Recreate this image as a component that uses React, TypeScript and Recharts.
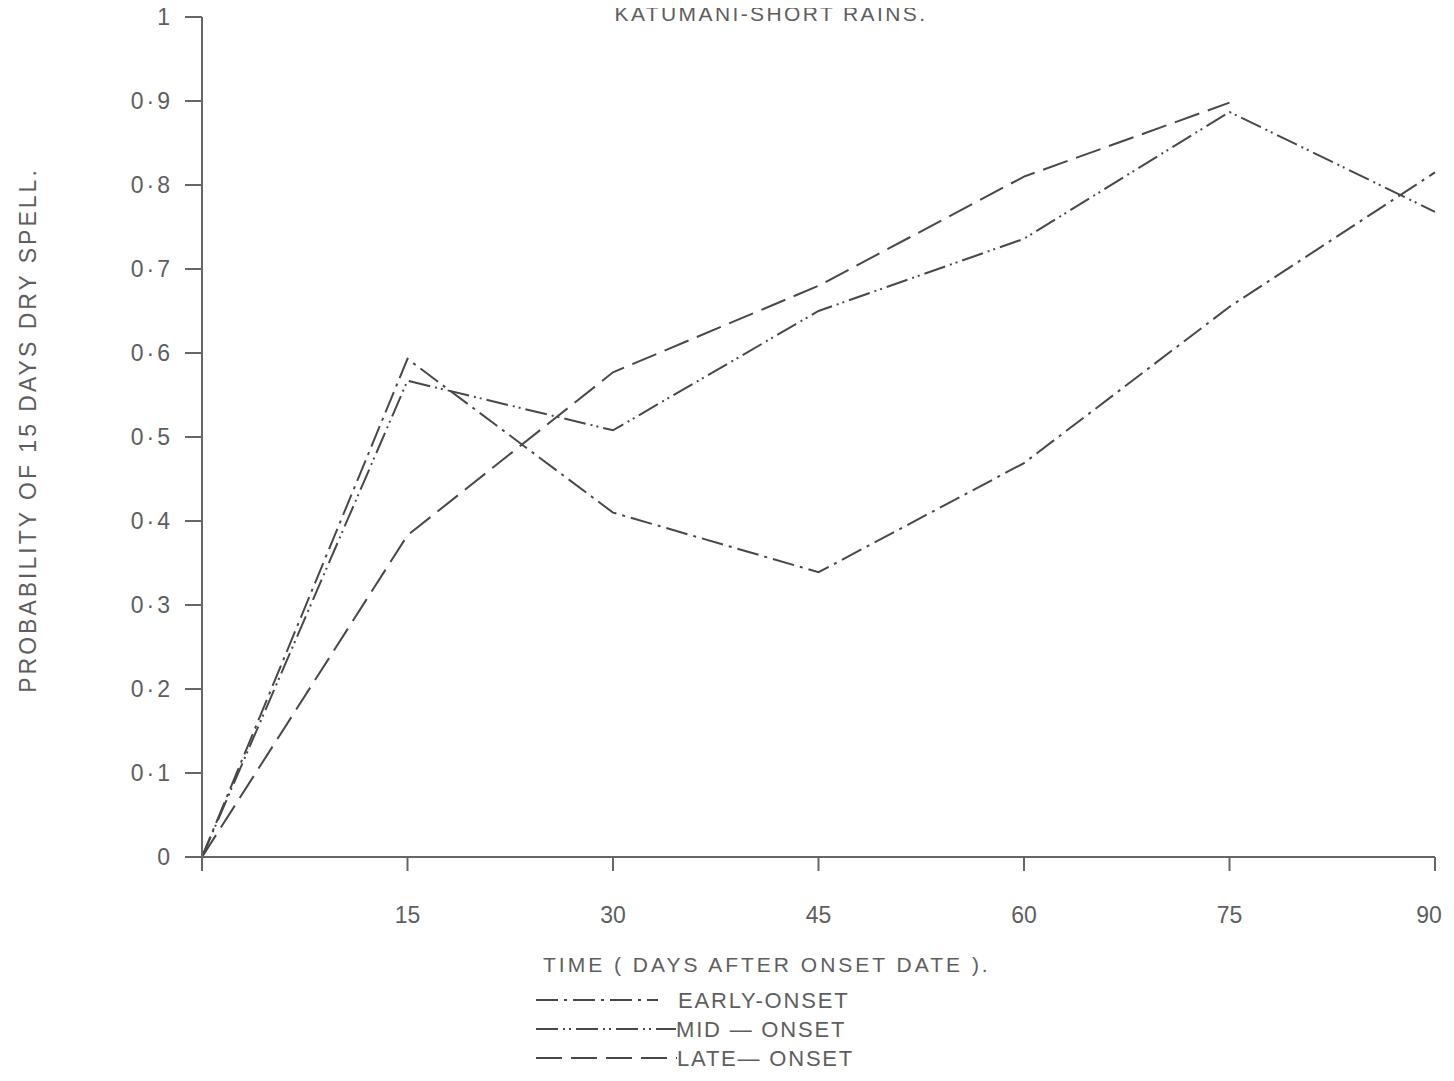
import { Line, LineChart, XAxis, YAxis } from "recharts";

const days = [0, 15, 30, 45, 60, 75, 90];
const earlyOnset = [0, 0.593, 0.41, 0.339, 0.469, 0.655, 0.815];
const midOnset = [0, 0.567, 0.508, 0.65, 0.736, 0.887, 0.768];
const lateOnset: (number | null)[] = [0, 0.383, 0.577, 0.68, 0.81, 0.898, null];

const xTicks = [0, 15, 30, 45, 60, 75, 90];
const yTicks = [0, 0.1, 0.2, 0.3, 0.4, 0.5, 0.6, 0.7, 0.8, 0.9, 1];

const INK = "#484848";
const TEXT = "#5e5e5e";
const FONT = "'Liberation Sans', Arial, sans-serif";

const series = [
  { key: "early", label: "EARLY-ONSET", dash: "22 6 3 6", end: 658, textX: 678 },
  { key: "mid", label: "MID — ONSET", dash: "22 5 2 4 2 5", end: 676, textX: 676 },
  { key: "late", label: "LATE— ONSET", dash: "26 9", end: 677, textX: 677 },
];

const data = days.map((d, i) => ({
  day: d,
  early: earlyOnset[i],
  mid: midOnset[i],
  late: lateOnset[i],
}));

function formatProb(v: number) {
  if (v === 0) return "0";
  if (v === 1) return "1";
  return v.toFixed(1).replace(".", "·");
}

// day labels sit well below the tick marks; no label at 0
function DayTick({ x, y, payload }: any) {
  if (payload.value === 0) return null;
  const shift = payload.value === 90 ? -6 : 0;
  return (
    <text x={x + shift} y={y + 17} textAnchor="middle" fontSize={23} fill={TEXT} fontFamily={FONT}>
      {payload.value}
    </text>
  );
}

// legend + x-axis title drawn under the plot, like the hand-drawn original
function LegendBlock() {
  return (
    <svg width={1454} height={150} style={{ position: "absolute", left: 0, top: 930 }}>
      <text x={543} y={42} fontSize={21} fill={TEXT} fontFamily={FONT} letterSpacing={3}>
        TIME ( DAYS AFTER ONSET DATE ).
      </text>
      {series.map((s, i) => {
        const y = 70 + i * 29;
        return (
          <g key={s.key}>
            <line x1={536} x2={s.end} y1={y} y2={y} stroke={INK} strokeWidth={2} strokeDasharray={s.dash} />
            <text x={s.textX} y={y + 8} fontSize={22} fill={TEXT} fontFamily={FONT} letterSpacing={1.8}>
              {s.label}
            </text>
          </g>
        );
      })}
    </svg>
  );
}

export default function App() {
  return (
    <div style={{ position: "relative", width: 1454, height: 1081, margin: -8, background: "#fff", overflow: "hidden" }}>
      <LineChart
        width={1454}
        height={1081}
        data={data}
        margin={{ top: 17, right: 19, bottom: 164, left: 142 }}
      >
        <text x={771} y={21} textAnchor="middle" fontSize={21} fill={TEXT} fontFamily={FONT} letterSpacing={2.4}>
          KATUMANI-SHORT RAINS.
        </text>
        <XAxis
          dataKey="day"
          type="number"
          domain={[0, 90]}
          ticks={xTicks}
          height={60}
          tickSize={14}
          tickMargin={35}
          tick={<DayTick />}
          axisLine={{ stroke: "#666", strokeWidth: 2 }}
          tickLine={{ stroke: "#666", strokeWidth: 2 }}
        />
        <YAxis
          type="number"
          domain={[0, 1]}
          ticks={yTicks}
          width={60}
          tickSize={17}
          tickMargin={12}
          tickFormatter={formatProb}
          tick={{ fontSize: 23, fill: TEXT, fontFamily: FONT, letterSpacing: 3 }}
          axisLine={{ stroke: "#666", strokeWidth: 2 }}
          tickLine={{ stroke: "#666", strokeWidth: 2 }}
          label={{
            content: () => (
              <text
                x={36}
                y={430}
                transform="rotate(-90 36 430)"
                textAnchor="middle"
                fontSize={23}
                fill={TEXT}
                fontFamily={FONT}
                letterSpacing={3}
              >
                PROBABILITY OF 15 DAYS DRY SPELL.
              </text>
            ),
          }}
        />
        {series.map((s) => (
          <Line
            key={s.key}
            type="linear"
            dataKey={s.key}
            name={s.label}
            stroke={INK}
            strokeWidth={2}
            strokeDasharray={s.dash}
            dot={false}
            activeDot={false}
            connectNulls={false}
            isAnimationActive={false}
          />
        ))}
      </LineChart>
      <LegendBlock />
      <div style={{ position: "absolute", left: 0, bottom: 0, width: 1454, height: 5, background: "#d6d6d6" }} />
    </div>
  );
}
